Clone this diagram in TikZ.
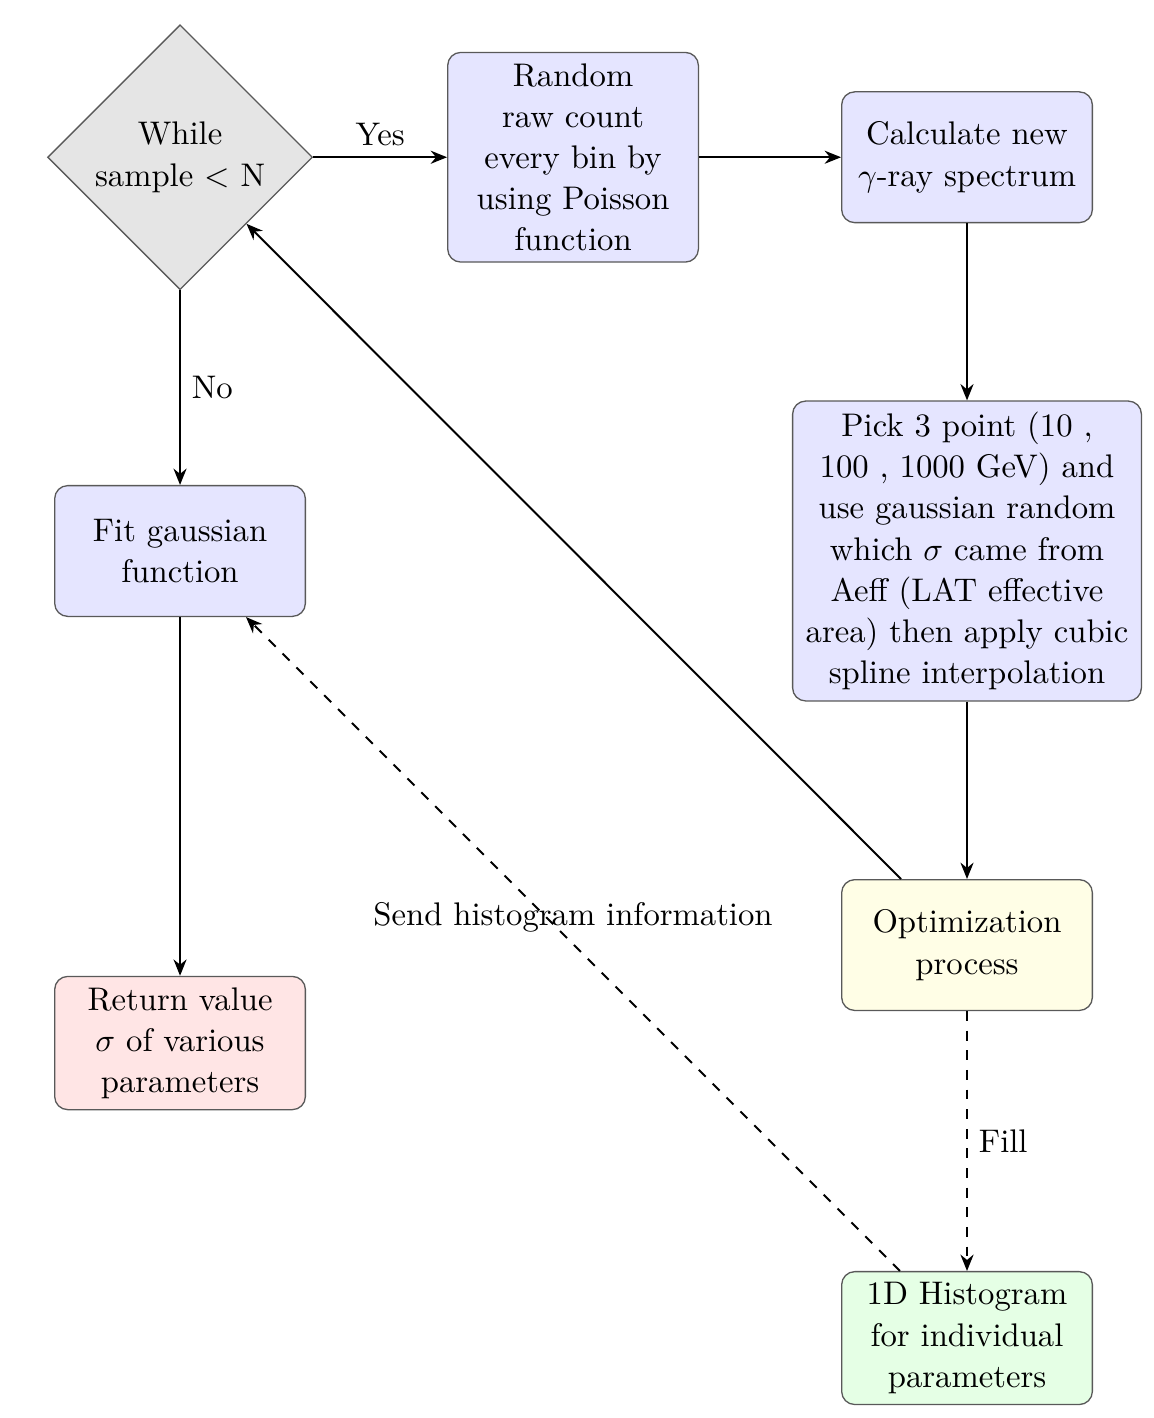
\documentclass[tikz,border=0pt]{standalone}
\usepackage{tikz}
\usetikzlibrary{arrows.meta,shapes.geometric,positioning}
\usepackage{amsmath}
\usepackage{xcolor}
\definecolor{boxline}{gray}{0.35}

\begin{document}
\begin{tikzpicture}[
  font=\fontsize{10}{12.6}\selectfont,
  block/.style={rectangle,draw=boxline,rounded corners,text width=7em,
    align=center,minimum height=4em},
  decision/.style={diamond,draw=boxline,fill=gray!20,text width=5.5em,
    align=center,inner sep=0pt,minimum width=81pt,minimum height=81pt},
  line/.style={draw,semithick,-{Stealth[length=5pt,width=4pt]}}]
  \useasboundingbox (0,0) rectangle (12.40,-15.24);
  % nodes
  \node[decision] (loop) at (1.935,-1.690) {While\\sample $<$ N};
  \node[block,fill=blue!10] (poisson) at (6.159,-1.690)
    {Random\\raw count\\every bin by\\using Poisson\\function};
  \node[block,fill=blue!10] (spectrum) at (10.393,-1.690)
    {Calculate new\\$\gamma$-ray spectrum};
  \node[block,fill=blue!10,text width=10em] (pick) at (10.393,-5.922)
    {Pick 3 point (10 ,\\100 , 1000 GeV) and\\use gaussian random\\
     which $\sigma$ came from\\Aeff (LAT effective\\area) then apply cubic\\
     spline interpolation};
  \node[block,fill=blue!10] (fit) at (1.935,-5.922) {Fit gaussian\\function};
  \node[block,fill=yellow!10] (optim) at (10.393,-10.157)
    {Optimization\\process};
  \node[block,fill=red!10] (result) at (1.935,-11.210)
    {Return value\\$\sigma$ of various\\parameters};
  \node[block,fill=green!10] (hist) at (10.393,-14.381)
    {1D Histogram\\for individual\\parameters};
  % connectors
  \path[line] (loop) -- node[above]{Yes} (poisson);
  \path[line] (poisson) -- (spectrum);
  \path[line] (spectrum) -- (pick);
  \path[line] (pick) -- (optim);
  \path[line] (optim) -- (loop);
  \path[line] (loop) -- node[right]{No} (fit);
  \path[line] (fit) -- (result);
  \path[line,dashed] (optim) -- node[right]{Fill} (hist);
  \path[line,dashed] (hist) -- node[above]{Send histogram information} (fit);
\end{tikzpicture}
\end{document}
